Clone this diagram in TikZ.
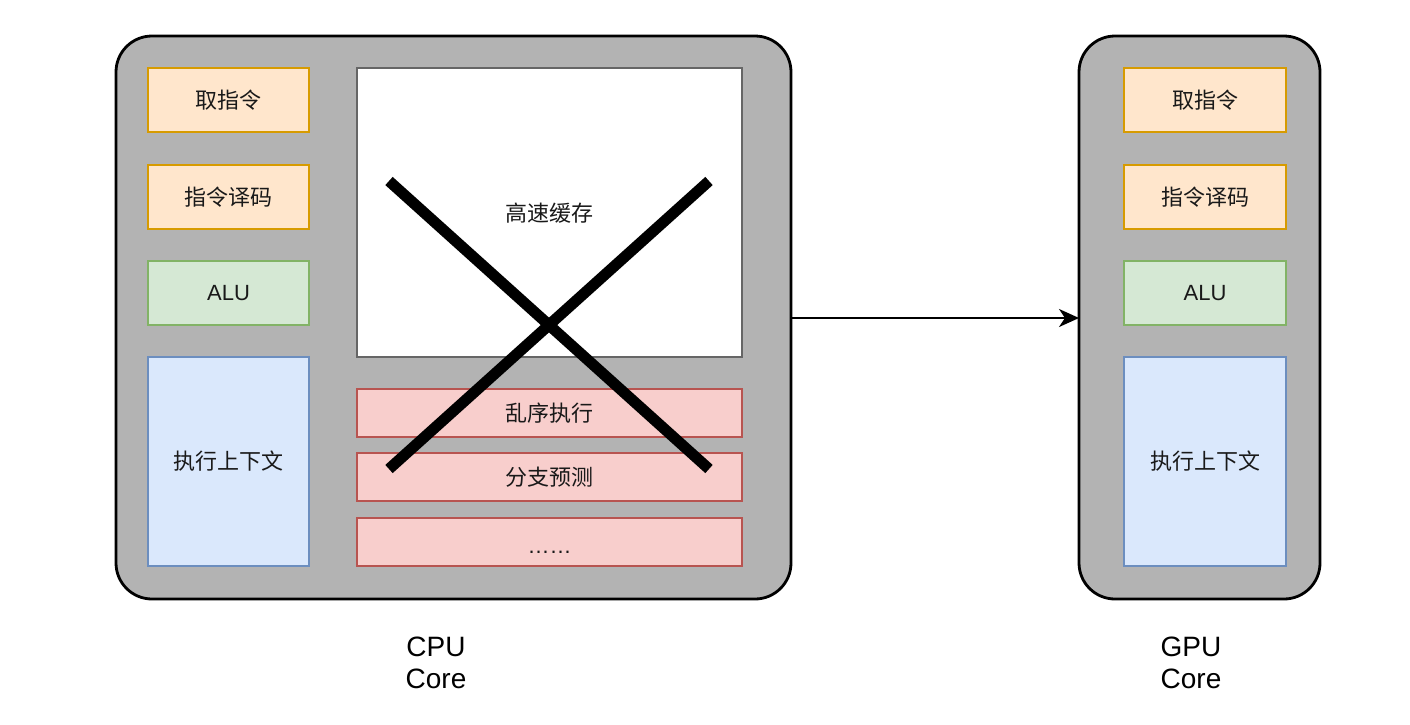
\documentclass[tikz,border=0pt]{standalone}
\usepackage{fontspec}
\setmainfont{Liberation Sans}
\newfontfamily\cjk{Noto Sans CJK SC}
\usetikzlibrary{arrows.meta}
\definecolor{coregray}{HTML}{B3B3B3}
\definecolor{orfill}{HTML}{FFE6CC}\definecolor{ordraw}{HTML}{D79B00}
\definecolor{grfill}{HTML}{D5E8D4}\definecolor{grdraw}{HTML}{82B366}
\definecolor{blfill}{HTML}{DAE8FC}\definecolor{bldraw}{HTML}{6C8EBF}
\definecolor{rdfill}{HTML}{F8CECC}\definecolor{rddraw}{HTML}{B85450}
\definecolor{cachedraw}{HTML}{666666}
\tikzset{
  core/.style={draw=black, line width=2.8pt, fill=coregray, rounded corners=36pt},
  unit/.style={line width=2.6pt, font=\fontsize{22}{26}\selectfont, text=black!90},
  orange/.style={unit, draw=ordraw, fill=orfill},
  green/.style={unit, draw=grdraw, fill=grfill},
  blue/.style={unit, draw=bldraw, fill=blfill},
  red/.style={unit, draw=rddraw, fill=rdfill},
  cache/.style={unit, draw=cachedraw, fill=white},
  caption/.style={font=\fontsize{28}{32}\selectfont, align=center},
  cross/.style={line width=11pt, black},
}
\begin{document}
\begin{tikzpicture}[x=1pt,y=-1pt]
\useasboundingbox (0,0) rectangle (1410,724);
% cores
\draw[core] (116,36) rectangle (791,599);
\coordinate (cpuE) at (791,318);
\draw[core] (1079,36) rectangle (1320,599);
\coordinate (gpuW) at (1079,318);
% CPU left column
\draw[orange] (148,68) rectangle (309,132) node[midway] (c1) {\cjk 取指令};
\draw[orange] (148,165) rectangle (309,229) node[midway] (c2) {\cjk 指令译码};
\draw[green] (148,261) rectangle (309,325) node[midway] (c3) {ALU};
\draw[blue] (148,357) rectangle (309,566) node[midway] (c4) {\cjk 执行上下文};
% cache
\draw[cache] (357,68) rectangle (742,357);
\node[unit] (cache) at (549.5,213) {\cjk 高速缓存};
% red boxes
\draw[red] (357,389) rectangle (742,437) node[midway] (r1) {\cjk 乱序执行};
\draw[red] (357,453) rectangle (742,501) node[midway] (r2) {\cjk 分支预测};
\draw[red] (357,518) rectangle (742,566);
\node[unit, anchor=base] (r3) at (549.5,553) {……};
% cross
\coordinate (xa) at (389,181);
\coordinate (xb) at (709,469);
\coordinate (xc) at (709,181);
\coordinate (xd) at (389,469);
\draw[cross] (xa) -- (xb);
\draw[cross] (xc) -- (xd);
% GPU column
\draw[orange] (1124,68) rectangle (1286,132) node[midway] (g1) {\cjk 取指令};
\draw[orange] (1124,165) rectangle (1286,229) node[midway] (g2) {\cjk 指令译码};
\draw[green] (1124,261) rectangle (1286,325) node[midway] (g3) {ALU};
\draw[blue] (1124,357) rectangle (1286,566) node[midway] (g4) {\cjk 执行上下文};
% arrow
\draw[line width=2.5pt, -{Stealth[length=20pt,width=18pt,inset=6pt]}] (cpuE) -- (gpuW);
% captions
\node[caption] (cpucap) at (436,663) {CPU\\Core};
\node[caption] (gpucap) at (1191,663) {GPU\\Core};
\end{tikzpicture}
\end{document}
